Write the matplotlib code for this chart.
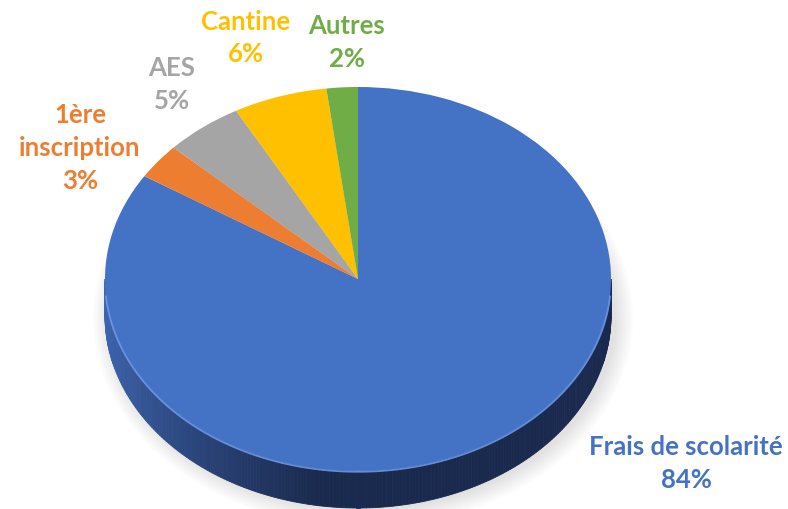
import numpy as np
import matplotlib.pyplot as plt
from matplotlib.patches import Polygon, Ellipse
from matplotlib.colors import to_rgb

labels = ["Frais de scolarité", "1ère\ninscription", "AES", "Cantine", "Autres"]
values = [84, 3, 5, 6, 2]
colors = ["#4472C4", "#ED7D31", "#A5A5A5", "#FFC000", "#70AD47"]

# figure in pixels, ellipse of the top face
W, H = 788, 510
cx, cy, rx, ry = 358, 280, 253, 192
depth = 37 / ry


def px(x, y):
    # pixel position -> data coords of the pie axes
    return (x - cx) / rx, (cy - y) / ry


fig = plt.figure(figsize=(W / 100, H / 100), dpi=100)
ax = fig.add_axes([0, 0, 1, 1])

# soft shadow
for i in range(10):
    ax.add_patch(Ellipse((0.02, -depth - 0.01), 2.0 + 0.015 * i, 2.0 + 0.02 * i,
                         color="#000000", alpha=0.012, lw=0, zorder=0))

# side of the pie (front half is all in the first slice)
light = np.array(to_rgb("#3f66b2"))
dark = np.array(to_rgb("#1a2a4e"))
th = np.linspace(np.pi, 2 * np.pi, 240)
for t1, t2 in zip(th[:-1], th[1:]):
    xm = np.cos((t1 + t2) / 2)
    k = np.clip((xm + 1) / 0.85, 0, 1) ** 0.7
    c = light * (1 - k) + dark * k
    quad = [(np.cos(t1), np.sin(t1)), (np.cos(t2), np.sin(t2)),
            (np.cos(t2), np.sin(t2) - depth), (np.cos(t1), np.sin(t1) - depth)]
    ax.add_patch(Polygon(quad, closed=True, facecolor=c, edgecolor=c, lw=0.6, zorder=1))

ax.pie(values, colors=colors, startangle=90, counterclock=False, radius=1,
       center=(0, 0), wedgeprops=dict(linewidth=0, zorder=2))

# light bevel along the front edge
tb = np.linspace(np.radians(185), np.radians(355), 200)
ax.plot(np.cos(tb), np.sin(tb) - 0.004, color="#6d98e6", lw=1.3, alpha=0.9, zorder=3)

ax.set_aspect("auto")
ax.set_xlim(-cx / rx, (W - cx) / rx)
ax.set_ylim(-(H - cy) / ry, cy / ry)
ax.axis("off")

# data labels
label_pos = [(686, 464), (80, 148), (172, 84), (246, 38), (347, 42)]
for name, v, col, (lx, ly) in zip(labels, values, colors, label_pos):
    x, y = px(lx, ly)
    ax.text(x, y, f"{name}\n{v}%", color=col, ha="center", va="center",
            fontsize=18.5, fontweight="bold", family="Lato", linespacing=1.45)

fig.savefig("out.png", dpi=100)
